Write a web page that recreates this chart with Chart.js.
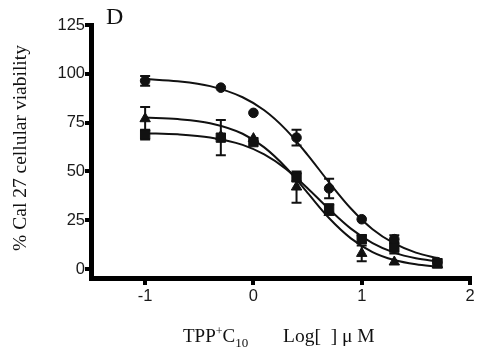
<!DOCTYPE html>
<html><head><meta charset="utf-8">
<script src="https://cdn.jsdelivr.net/npm/chart.js@4"></script>
<style>html,body{margin:0;padding:0;background:#fff}#wrap{width:479px;height:353px}</style>
</head><body><div id="wrap"><canvas id="c" width="479" height="353"></canvas></div>
<script>
// measured points (log concentration)
const doseX = [-1, -0.301, 0, 0.398, 0.699, 1, 1.301, 1.699];
const circleY = [96.4, 92.9, 80.0, 67.3, 41.3, 25.5, 15.3, 3.5];
const circleErr = [2.5, 0, 0, 4, 5, 0, 2, 0];
const squareY = [68.9, 67.3, 65.0, 47.0, 31.0, 15.3, 11.0, 3.0];
const squareErr = [2.5, 9, 0, 2, 2, 2, 3, 2];
const triangleY = [77.0, 68.0, 66.8, 42.0, 29.0, 8.0, 3.6, 2.0];
const triangleErr = [6, 0, 0, 8, 0, 4, 0, 0];
// fitted curves
const curveX = [-1, -0.7, -0.4, -0.1, 0.1, 0.3, 0.5, 0.7, 0.9, 1.1, 1.3, 1.5, 1.7];
const circleCurve = [97.3, 96.2, 93.7, 88.0, 81.3, 71.4, 58.5, 44.3, 31.0, 20.4, 13.1, 8.4, 5.6];
const squareCurve = [69.6, 69.0, 67.4, 63.6, 58.7, 51.3, 41.4, 30.6, 20.7, 13.3, 8.4, 5.5, 3.9];
const triangleCurve = [77.6, 76.8, 74.7, 69.3, 62.3, 52.0, 39.0, 26.0, 15.7, 8.7, 4.6, 2.4, 1.2];
const xTicks = [-1, 0, 1, 2];
const yTicks = [0, 25, 50, 75, 100, 125];

const pts = (xs, ys) => xs.map((x, i) => ({x, y: ys[i]}));
const curveDs = ys => ({type:'line', data: pts(curveX, ys), borderColor:'#111', borderWidth:2,
  pointRadius:0, cubicInterpolationMode:'monotone', fill:false, order:2});
const markDs = (ys, style, r, err) => ({type:'scatter', data: pts(doseX, ys), pointStyle: style,
  pointRadius:r, backgroundColor:'#111', borderColor:'#111', borderWidth:1, err, order:1});

const errPlugin = {
  id:'err',
  beforeDatasetsDraw(chart){
    const {ctx, scales:{x, y}} = chart;
    ctx.save(); ctx.strokeStyle='#111'; ctx.lineWidth=2;
    chart.data.datasets.forEach(ds => {
      if(!ds.err) return;
      ds.data.forEach((p, i) => {
        const e = ds.err[i]; if(!e) return;
        const px = x.getPixelForValue(p.x), t = y.getPixelForValue(p.y + e), b = y.getPixelForValue(p.y - e);
        ctx.beginPath(); ctx.moveTo(px, t); ctx.lineTo(px, b);
        ctx.moveTo(px-5, t); ctx.lineTo(px+5, t); ctx.moveTo(px-5, b); ctx.lineTo(px+5, b); ctx.stroke();
      });
    });
    ctx.restore();
  }
};
const textPlugin = {
  id:'texts',
  afterDraw(chart){
    const ctx = chart.ctx; ctx.save(); ctx.fillStyle='#111';
    ctx.textBaseline='alphabetic';
    ctx.font='24px "Liberation Serif"'; ctx.textAlign='left'; ctx.fillText('D', 106, 24);
    // y title
    ctx.save(); ctx.translate(26, 148); ctx.rotate(-Math.PI/2);
    ctx.font='19.5px "Liberation Serif"'; ctx.textAlign='center'; ctx.fillText('% Cal 27 cellular viability', 0, 0);
    ctx.restore();
    // x title
    let xp = 183; const base = 342;
    const put = (s, f, dy) => { ctx.font = f; ctx.fillText(s, xp, base + dy); xp += ctx.measureText(s).width; };
    ctx.textAlign='left';
    put('TPP', '19px "Liberation Serif"', 0);
    put('+', '12px "Liberation Serif"', -7);
    put('C', '19px "Liberation Serif"', 0);
    put('10', '13px "Liberation Serif"', 5);
    xp = 283;
    put('Log[  ] \u03bc M', '19.5px "Liberation Serif"', 0);
    ctx.restore();
  }
};

new Chart(document.getElementById('c'), {
  data:{datasets:[
    curveDs(circleCurve), curveDs(squareCurve), curveDs(triangleCurve),
    markDs(circleY, 'circle', 4.8, circleErr),
    markDs(squareY, 'rect', 6.6, squareErr),
    markDs(triangleY, 'triangle', 6, triangleErr)
  ]},
  options:{
    responsive:false, animation:false, devicePixelRatio:1,
    layout:{padding:{left:0, right:9, top:25, bottom:0}},
    plugins:{legend:{display:false}, tooltip:{enabled:false}},
    scales:{
      x:{type:'linear', min:-1.5, max:2,
        afterBuildTicks: s => { s.ticks = xTicks.map(v => ({value:v})); },
        afterFit: s => { s.height = 75; },
        border:{color:'#000', width:5},
        grid:{drawOnChartArea:false, drawTicks:true, tickLength:7, lineWidth:4, color:'#000'},
        ticks:{color:'#1a1a1a', font:{family:'"Liberation Sans"', size:16.5}, padding:2}},
      y:{type:'linear', min:-4.6, max:125,
        afterBuildTicks: s => { s.ticks = yTicks.map(v => ({value:v})); },
        afterFit: s => { s.width = 91; },
        border:{color:'#000', width:5},
        grid:{drawOnChartArea:false, drawTicks:true, tickLength:6, lineWidth:4, color:'#000'},
        ticks:{color:'#1a1a1a', font:{family:'"Liberation Sans"', size:16.5}, padding:0}}
    }
  },
  plugins:[errPlugin, textPlugin]
});
</script></body></html>
